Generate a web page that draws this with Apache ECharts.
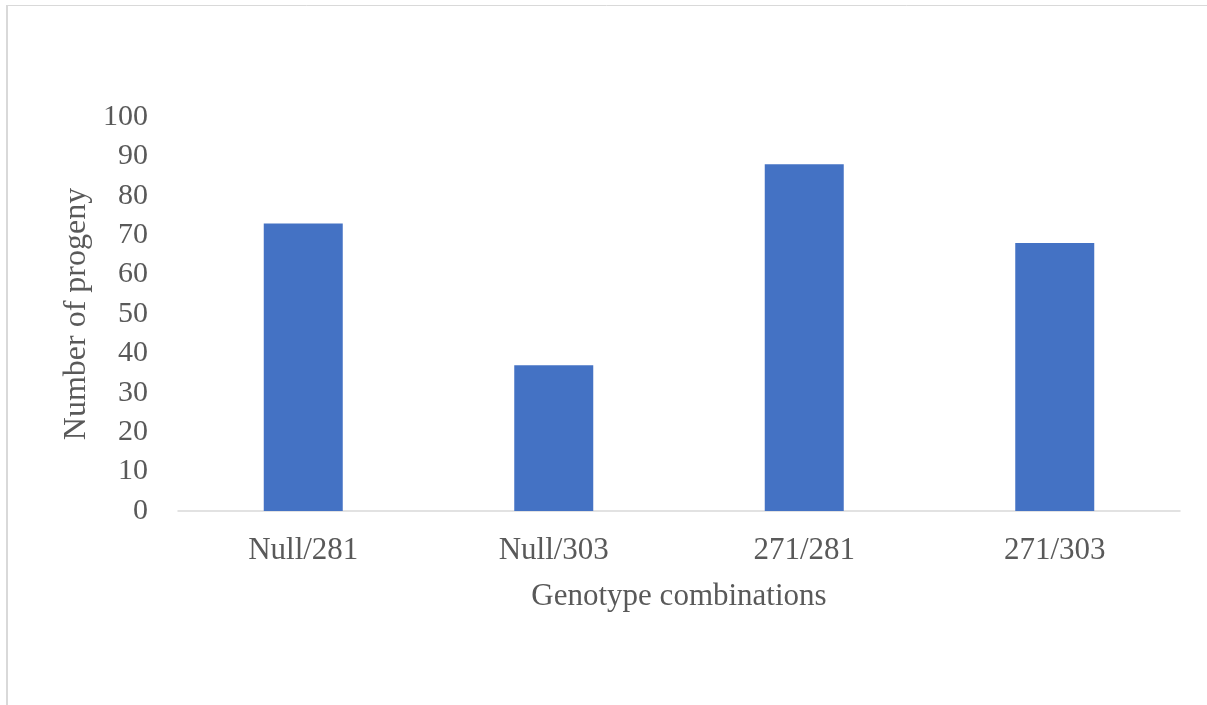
<!DOCTYPE html>
<html>
<head>
<meta charset="utf-8">
<script src="https://cdn.jsdelivr.net/npm/echarts@6/dist/echarts.min.js"></script>
<style>
html,body{margin:0;padding:0;background:#fff;}
#chart{width:1207px;height:705px;}
</style>
</head>
<body>
<div id="chart"></div>
<script>
const categories = ['Null/281', 'Null/303', '271/281', '271/303'];
const progenyCounts = [73, 37, 88, 68];
const yTicks = { min: 0, max: 100, interval: 10 };

const font = '"Liberation Serif", "Times New Roman", serif';
const textColor = '#595959';

const chart = echarts.init(document.getElementById('chart'), null, { renderer: 'canvas' });
chart.setOption({
  backgroundColor: '#ffffff',
  animation: false,
  graphic: [
    { type: 'line', shape: { x1: 6, y1: 5.5, x2: 1207, y2: 5.5 }, style: { stroke: '#d9d9d9', lineWidth: 1 } },
    { type: 'line', shape: { x1: 7, y1: 5, x2: 7, y2: 705 }, style: { stroke: '#d9d9d9', lineWidth: 2 } }
  ],
  grid: { left: 178, right: 27, top: 117, bottom: 194, containLabel: false },
  xAxis: {
    type: 'category',
    data: categories,
    name: 'Genotype combinations',
    nameLocation: 'middle',
    nameGap: 70,
    nameTextStyle: { fontFamily: font, fontSize: 31, color: textColor },
    axisLine: { show: true, lineStyle: { color: '#d9d9d9', width: 1.5 } },
    axisTick: { show: false },
    axisLabel: { fontFamily: font, fontSize: 31, color: textColor, margin: 24 }
  },
  yAxis: {
    type: 'value',
    min: yTicks.min,
    max: yTicks.max,
    interval: yTicks.interval,
    name: 'Number of progeny',
    nameLocation: 'middle',
    nameRotate: 90,
    nameGap: 79,
    nameTextStyle: { fontFamily: font, fontSize: 32, color: textColor },
    axisLine: { show: false },
    axisTick: { show: false },
    splitLine: { show: false },
    axisLabel: { fontFamily: font, fontSize: 30, color: textColor, margin: 30 }
  },
  series: [{
    type: 'bar',
    data: progenyCounts,
    barWidth: 79,
    itemStyle: { color: '#4472C4' }
  }]
});
</script>
</body>
</html>
